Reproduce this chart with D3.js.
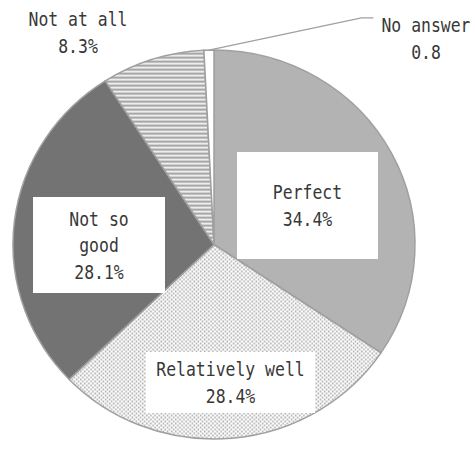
<!DOCTYPE html>
<html><head><meta charset="utf-8">
<script src="https://cdn.jsdelivr.net/npm/d3@7"></script>
<style>
html,body{margin:0;padding:0;background:#fff;}
svg{display:block;}
</style></head>
<body>
<svg id="chart" width="475" height="453"></svg>
<script>
// ---- data ----
const categories = ["Perfect", "Relatively well", "Not so good", "Not at all", "No answer"];
const values = [34.4, 28.4, 28.1, 8.3, 0.8];
const labelLines = [["Perfect", "34.4%"], ["Relatively well", "28.4%"], ["Not so", "good", "28.1%"], ["Not at all", "8.3%"], ["No answer", "0.8"]];

// ---- layout / style ----
const W = 475, H = 453;
const cx = 214, cy = 244.5, rx = 201, ry = 194.5;
const fills = ["#b3b3b3", "url(#dots)", "#737373", "url(#stripes)", "#ffffff"];
// label placement: [centerX, centerY, boxW, boxH] (boxW 0 = no box)
const labelLayout = [
  [307.5, 205.5, 141, 107],
  [230.5, 382.5, 169, 61],
  [99, 245, 132, 96],
  [78, 32, 0, 0],
  [426, 38, 0, 0]
];
const fontSize = 20, charW = 9.9, lineH = 26.8, capH = 14.6;
const squeeze = charW / (0.602 * fontSize);

const svg = d3.select("#chart");
const defs = svg.append("defs");
const dots = defs.append("pattern").attr("id", "dots").attr("patternUnits", "userSpaceOnUse")
  .attr("width", 4).attr("height", 4);
dots.append("rect").attr("width", 4).attr("height", 4).attr("fill", "#fff");
dots.append("circle").attr("cx", 1).attr("cy", 1).attr("r", 0.9).attr("fill", "#ababab");
dots.append("circle").attr("cx", 3).attr("cy", 3).attr("r", 0.9).attr("fill", "#ababab");
const stripes = defs.append("pattern").attr("id", "stripes").attr("patternUnits", "userSpaceOnUse")
  .attr("width", 4).attr("height", 4);
stripes.append("rect").attr("width", 4).attr("height", 4).attr("fill", "#fff");
stripes.append("rect").attr("y", 0).attr("width", 4).attr("height", 2.4).attr("fill", "#a6a6a6");

const pie = d3.pie().value(d => d).sort(null);
const arcs = pie(values);
const arc = d3.arc().innerRadius(0).outerRadius(ry);

const g = svg.append("g").attr("transform", `translate(${cx},${cy}) scale(${rx / ry},1)`);
g.selectAll("path.slice").data(arcs).join("path")
  .attr("class", "slice")
  .attr("d", arc)
  .attr("fill", (d, i) => fills[i])
  .attr("stroke", "#a0a0a0")
  .attr("stroke-width", 1.5)
  .attr("vector-effect", "non-scaling-stroke");

// leader line for "No answer"
const na = arcs[4];
const mid = (na.startAngle + na.endAngle) / 2;
const px = cx + rx * Math.sin(mid), py = cy - ry * Math.cos(mid);
const nl = labelLayout[4];
const lx = nl[0] - categories[4].length * charW / 2 - 8;
const ly = nl[1] - lineH / 2 - capH / 2 + 0.5;
svg.append("path")
  .attr("d", d3.line()([[lx, ly], [lx - 12, ly], [px, py]]))
  .attr("fill", "none").attr("stroke", "#a0a0a0").attr("stroke-width", 1.3);

// labels
const lg = svg.append("g").attr("font-family", "'DejaVu Sans Mono', monospace")
  .attr("font-size", fontSize).attr("fill", "#383838");
labelLines.forEach((lines, i) => {
  const [lxc, lyc, bw, bh] = labelLayout[i];
  if (bw > 0) {
    lg.append("rect").attr("x", lxc - bw / 2).attr("y", lyc - bh / 2)
      .attr("width", bw).attr("height", bh).attr("fill", "#fff");
  }
  const n = lines.length;
  lines.forEach((t, j) => {
    const by = lyc - (n - 1) * lineH / 2 + j * lineH + capH / 2;
    lg.append("text")
      .attr("transform", `translate(${lxc},${by}) scale(${squeeze},1)`)
      .attr("text-anchor", "middle")
      .text(t);
  });
});
</script>
</body></html>
